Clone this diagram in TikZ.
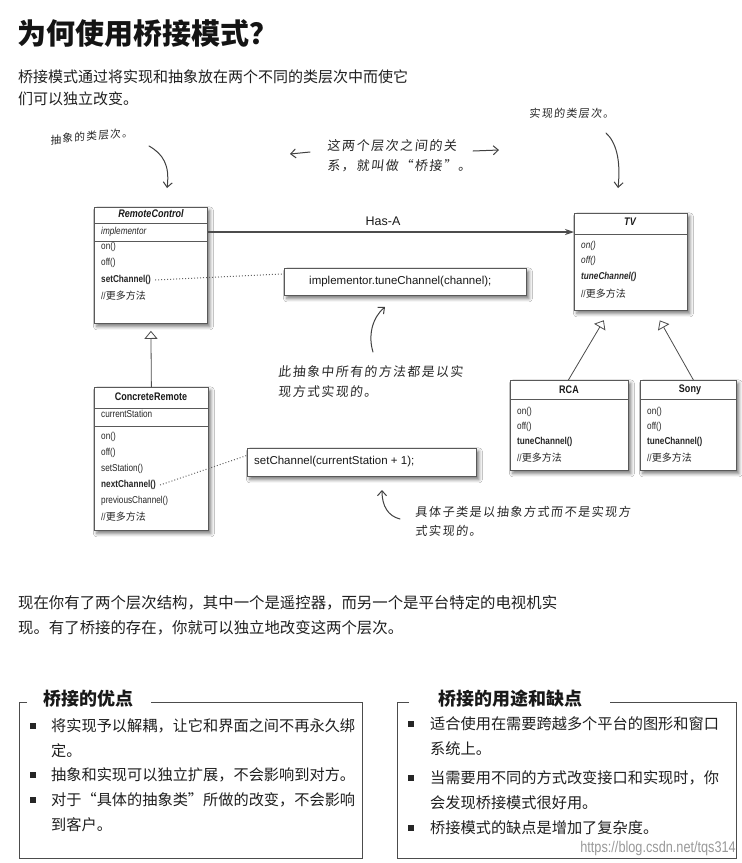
\documentclass[tikz,border=0pt]{standalone}
\usepackage{fontspec}
\setmainfont{Liberation Sans}
\newfontfamily\cjk{Noto Sans CJK SC}
\newfontfamily\handfont[LetterSpace=12,FakeSlant=0.1]{Noto Sans CJK SC}
\newfontfamily\uml[FakeStretch=0.82]{Liberation Sans}
\usetikzlibrary{arrows.meta,shadows.blur}
\tikzset{
  umlbox/.style={draw=black!65, line width=0.8pt, fill=white, rectangle, inner sep=0pt,
    anchor=north west,
    blur shadow={shadow xshift=2.5pt, shadow yshift=-3pt, shadow blur radius=3.5pt, shadow opacity=55}},
  umlline/.style={draw=black!65, line width=0.7pt},
  umlrow/.style={anchor=west, inner sep=0pt, text=black!85, font=\uml\fontsize{10}{12}\selectfont},
  umlhead/.style={inner sep=0pt, text=black!90, font=\uml\bfseries\fontsize{11}{13}\selectfont},
  codetext/.style={anchor=west, inner sep=0pt, text=black!90, font=\fontsize{11.5}{13}\selectfont},
  body/.style={anchor=west, inner sep=0pt, text=black!88, font=\cjk\fontsize{15}{17}\selectfont},
  boxtext/.style={anchor=west, inner sep=0pt, text=black!88, font=\cjk\fontsize{15.2}{17}\selectfont},
  boxtitle/.style={anchor=west, inner sep=0pt, text=black!90, font=\cjk\bfseries\fontsize{18}{20}\selectfont},
  anno/.style={anchor=west, inner sep=0pt, text=black!85},
  handarrow/.style={draw=black!75, line width=1pt, line cap=round, -{Straight Barb[length=5pt,width=9pt]}},
  gen/.style={draw=black!70, line width=0.8pt, -{Triangle[fill=white,length=8pt,width=13pt]}},
  dotline/.style={draw=black!60, line width=1pt, dotted},
  bulletsq/.style={fill=black!85, rectangle, minimum size=5.5pt, inner sep=0pt},
  frameline/.style={draw=black!70, line width=0.8pt}
}
\begin{document}
\begin{tikzpicture}[x=1pt,y=-1pt]
\useasboundingbox (0,0) rectangle (742,863);
\fill[white] (0,0) rectangle (742,863);

% title and intro
\node[anchor=west, inner sep=0pt, text=black!92, font=\cjk\bfseries\fontsize{29}{32}\selectfont] (title) at (17,34) {为何使用桥接模式？};
\node[body] (intro1) at (18,77) {桥接模式通过将实现和抽象放在两个不同的类层次中而使它};
\node[body] (intro2) at (18,99) {们可以独立改变。};

% handwritten annotations (top)
\node[anno, font=\handfont\fontsize{10.7}{12}\selectfont, rotate=5] (absnote) at (50,140) {抽象的类层次。};
\node[anno, font=\handfont\fontsize{11}{12}\selectfont] (impnote) at (529,113) {实现的类层次。};
\node[anno, font=\handfont\fontsize{13}{14}\selectfont] (bridge1) at (327,146) {这两个层次之间的关};
\node[anno, font=\handfont\fontsize{13}{14}\selectfont] (bridge2) at (327,166) {系，就叫做“桥接”。};
\coordinate (la1) at (310,152); \coordinate (la2) at (290,154);
\coordinate (ra1) at (473,151); \coordinate (ra2) at (499,150);
\draw[handarrow] (la1) -- (la2);
\draw[handarrow] (ra1) -- (ra2);
\coordinate (absarr) at (149,146);
\coordinate (absend) at (167,188);
\draw[handarrow] (absarr) .. controls (163,154) and (170,165) .. (absend);
\coordinate (imparr) at (606,133);
\coordinate (impend) at (618,188);
\draw[handarrow] (imparr) .. controls (616,142) and (621,160) .. (impend);

% RemoteControl
\node[umlbox, minimum width=113pt, minimum height=116pt] (rc) at (94,207) {};
\draw[umlline] (rc.west |- 0,223) -- (rc.east |- 0,223);
\draw[umlline] (rc.west |- 0,241) -- (rc.east |- 0,241);
\node[umlhead, font=\uml\bfseries\itshape\fontsize{11}{13}\selectfont] (rc-name) at (151,214) {RemoteControl};
\node[umlrow, font=\uml\itshape\fontsize{10}{12}\selectfont] (rc-impl) at (101,232) {implementor};
\node[umlrow] (rc-on) at (101,247) {on()};
\node[umlrow] (rc-off) at (101,263) {off()};
\node[umlrow, font=\uml\bfseries\fontsize{10}{12}\selectfont] (rc-set) at (101,280) {setChannel()};
\node[umlrow] (rc-more) at (101,296) {//\cjk 更多方法};

% TV
\node[umlbox, minimum width=113pt, minimum height=97pt] (tv) at (574,213) {};
\draw[umlline] (tv.west |- 0,234) -- (tv.east |- 0,234);
\node[umlhead, font=\uml\bfseries\itshape\fontsize{11}{13}\selectfont] (tv-name) at (630,222) {TV};
\node[umlrow, font=\uml\itshape\fontsize{10}{12}\selectfont] (tv-on) at (581,246) {on()};
\node[umlrow, font=\uml\itshape\fontsize{10}{12}\selectfont] (tv-off) at (581,261) {off()};
\node[umlrow, font=\uml\bfseries\itshape\fontsize{10}{12}\selectfont] (tv-tune) at (581,277) {tuneChannel()};
\node[umlrow] (tv-more) at (581,294) {//\cjk 更多方法};

% Has-A
\draw[draw=black!70, line width=1.3pt, -{Stealth[length=9pt,width=6pt]}] (rc.east |- 0,232) -- (tv.west |- 0,232);
\node[inner sep=0pt, text=black!90, font=\fontsize{12.5}{14}\selectfont] (hasa) at (383,221) {Has-A};

% implementor box
\node[umlbox, minimum width=242pt, minimum height=27pt] (impl) at (284,268) {};
\node[codetext] (impl-t) at (309,282) {implementor.tuneChannel(channel);};
\draw[dotline] ([xshift=4pt]rc-set.east) -- ([yshift=8pt]impl.west);

% note below implementor box
\coordinate (n1s) at (373,352);
\coordinate (n1e) at (385,307);
\draw[handarrow] (n1s) .. controls (368,336) and (372,318) .. (n1e);
\node[anno, font=\handfont\fontsize{12.8}{14}\selectfont] (absall1) at (278,372) {此抽象中所有的方法都是以实};
\node[anno, font=\handfont\fontsize{12.8}{14}\selectfont] (absall2) at (278,392) {现方式实现的。};

% ConcreteRemote
\node[umlbox, minimum width=114pt, minimum height=143pt] (cr) at (94,387) {};
\draw[umlline] (cr.west |- 0,408) -- (cr.east |- 0,408);
\draw[umlline] (cr.west |- 0,426) -- (cr.east |- 0,426);
\node[umlhead] (cr-name) at (151,397) {ConcreteRemote};
\node[umlrow] (cr-cur) at (101,414) {currentStation};
\node[umlrow] (cr-on) at (101,437) {on()};
\node[umlrow] (cr-off) at (101,453) {off()};
\node[umlrow] (cr-sets) at (101,469) {setStation()};
\node[umlrow, font=\uml\bfseries\fontsize{10}{12}\selectfont] (cr-next) at (101,485) {nextChannel()};
\node[umlrow] (cr-prev) at (101,501) {previousChannel()};
\node[umlrow] (cr-more) at (101,517) {//\cjk 更多方法};
\draw[gen] (cr.north) -- ([yshift=-7pt]rc.south);

% setChannel box
\node[umlbox, minimum width=229pt, minimum height=28pt] (sc) at (247,448) {};
\node[codetext] (sc-t) at (254,462) {setChannel(currentStation + 1);};
\draw[dotline] ([xshift=4pt]cr-next.east) -- ([yshift=7pt]sc.west);

% note below setChannel box
\coordinate (n2s) at (400,519);
\coordinate (n2e) at (382,490);
\draw[handarrow] (n2s) .. controls (388,516) and (382,506) .. (n2e);
\node[anno, font=\handfont\fontsize{12.1}{14}\selectfont] (conc1) at (415,512) {具体子类是以抽象方式而不是实现方};
\node[anno, font=\handfont\fontsize{12.1}{14}\selectfont] (conc2) at (415,531) {式实现的。};

% RCA
\node[umlbox, minimum width=118pt, minimum height=90pt] (rca) at (510,380) {};
\draw[umlline] (rca.west |- 0,399) -- (rca.east |- 0,399);
\node[umlhead] (rca-name) at (569,390) {RCA};
\node[umlrow] (rca-on) at (517,412) {on()};
\node[umlrow] (rca-off) at (517,427) {off()};
\node[umlrow, font=\uml\bfseries\fontsize{10}{12}\selectfont] (rca-tune) at (517,442) {tuneChannel()};
\node[umlrow] (rca-more) at (517,458) {//\cjk 更多方法};

% Sony
\node[umlbox, minimum width=96pt, minimum height=90pt] (sony) at (640,380) {};
\draw[umlline] (sony.west |- 0,399) -- (sony.east |- 0,399);
\node[umlhead] (sony-name) at (690,390) {Sony};
\node[umlrow] (sony-on) at (647,412) {on()};
\node[umlrow] (sony-off) at (647,427) {off()};
\node[umlrow, font=\uml\bfseries\fontsize{10}{12}\selectfont] (sony-tune) at (647,442) {tuneChannel()};
\node[umlrow] (sony-more) at (647,458) {//\cjk 更多方法};

\draw[gen, shorten >=11pt] ([xshift=-1pt]rca.north) -- ([xshift=-21.5pt]tv.south);
\draw[gen, shorten >=11pt] ([xshift=5pt]sony.north) -- ([xshift=23.5pt]tv.south);

% bottom paragraph
\node[body, font=\cjk\fontsize{15.4}{17}\selectfont] (para1) at (18,603) {现在你有了两个层次结构，其中一个是遥控器，而另一个是平台特定的电视机实};
\node[body, font=\cjk\fontsize{15.4}{17}\selectfont] (para2) at (18,628) {现。有了桥接的存在，你就可以独立地改变这两个层次。};

% left box
\draw[frameline] (27,702) -- (19,702) -- (19,858) -- (362,858) -- (362,702) -- (151,702);
\node[boxtitle] (lt) at (43,699) {桥接的优点};
\node[bulletsq] (lb1) at (33,726) {};
\node[boxtext] (l1) at (51,726) {将实现予以解耦，让它和界面之间不再永久绑};
\node[boxtext] (l2) at (51,751) {定。};
\node[bulletsq] (lb3) at (33,775) {};
\node[boxtext] (l3) at (51,775) {抽象和实现可以独立扩展，不会影响到对方。};
\node[bulletsq] (lb4) at (33,800) {};
\node[boxtext] (l4) at (51,800) {对于“具体的抽象类”所做的改变，不会影响};
\node[boxtext] (l5) at (51,825) {到客户。};

% right box
\draw[frameline] (409,702) -- (397,702) -- (397,858) -- (736,858) -- (736,702) -- (610,702);
\node[boxtitle] (rt) at (438,699) {桥接的用途和缺点};
\node[bulletsq] (rb1) at (411,724) {};
\node[boxtext] (r1) at (430,724) {适合使用在需要跨越多个平台的图形和窗口};
\node[boxtext] (r2) at (430,749) {系统上。};
\node[bulletsq] (rb3) at (411,778) {};
\node[boxtext] (r3) at (430,778) {当需要用不同的方式改变接口和实现时，你};
\node[boxtext] (r4) at (430,803) {会发现桥接模式很好用。};
\node[bulletsq] (rb5) at (411,828) {};
\node[boxtext] (r5) at (430,828) {桥接模式的缺点是增加了复杂度。};

% watermark
\node[anchor=east, inner sep=0pt, text=black!40, font=\uml\fontsize{15.5}{18}\selectfont] (wm) at (736,848) {https://blog.csdn.net/tqs314};
\end{tikzpicture}
\end{document}
